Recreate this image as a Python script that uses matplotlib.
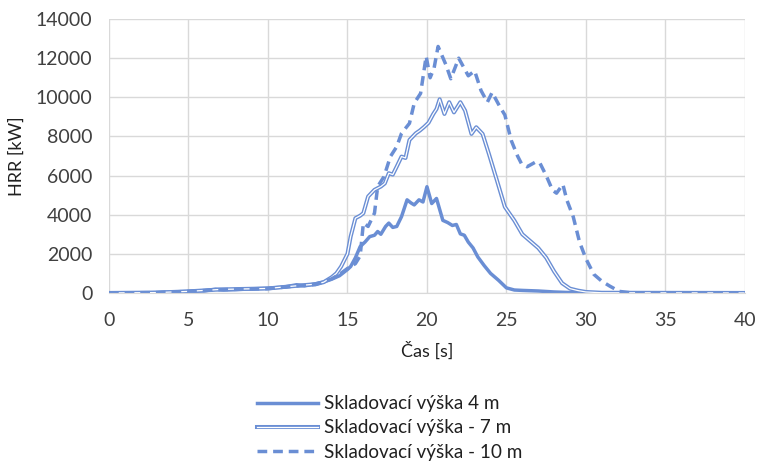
#import relevant libaries
import matplotlib
matplotlib.use('Agg')
import matplotlib.pyplot as plt
import matplotlib.patheffects as pe

plt.rcParams['font.family'] = ['Lato', 'DejaVu Sans']

#data
t4 = [0, 2, 3, 4, 5, 6, 6.7, 7.2, 8, 9, 10, 11, 11.8, 12.3, 13, 13.5, 14, 14.5, 15, 15.2, 15.5, 15.8, 16.1, 16.4,
      16.7, 16.9, 17.1, 17.4, 17.6, 17.85, 18.1, 18.4, 18.75, 19.0, 19.2, 19.5, 19.75, 20.0, 20.3, 20.6, 21.0,
      21.3, 21.6, 21.85, 22.1, 22.35, 22.6, 22.9, 23.2, 23.6, 24, 24.5, 25, 25.5, 26, 27, 28, 29, 30, 31, 40]
hrr4 = [0, 0, 20, 50, 80, 110, 190, 150, 170, 210, 240, 300, 420, 360, 470, 560, 700, 880, 1200, 1350, 1800, 2370,
        2600, 2880, 2950, 3140, 3000, 3400, 3570, 3350, 3400, 3900, 4760, 4600, 4500, 4760, 4650, 5430, 4570, 4830,
        3710, 3600, 3450, 3500, 3020, 2950, 2600, 2300, 1840, 1400, 1000, 650, 260, 150, 130, 100, 50, 20, 10, 0, 0]

t7 = [0, 3, 5, 7, 10, 12, 13, 13.5, 14, 14.3, 14.6, 15, 15.2, 15.5, 15.8, 16, 16.3, 16.7, 17.1, 17.35, 17.6, 17.85,
      18.1, 18.4, 18.65, 18.9, 19.3, 19.55, 19.8, 20.1, 20.4, 20.6, 20.8, 21.1, 21.4, 21.7, 22.1, 22.4, 22.8, 23.1,
      23.5, 23.9, 24.4, 24.9, 25.5, 26, 26.5, 27, 27.5, 28, 28.5, 29, 29.5, 30, 31, 40]
hrr7 = [0, 20, 80, 180, 230, 380, 450, 550, 800, 1000, 1350, 2000, 2880, 3820, 3950, 4080, 4930, 5270, 5440, 5600,
        6120, 6050, 6460, 6970, 6900, 7820, 8160, 8300, 8470, 8700, 9150, 9400, 9900, 9150, 9750, 9230, 9750, 9320,
        8130, 8470, 8130, 7100, 5760, 4400, 3700, 3000, 2650, 2300, 1800, 1100, 500, 220, 120, 50, 10, 0]

t10 = [0, 3, 5, 7, 10, 12, 13, 14, 14.5, 15, 15.5, 15.8, 16.0, 16.3, 16.7, 16.9, 17.3, 17.7, 18.1, 18.4, 18.9,
       19.2, 19.6, 19.95, 20.2, 20.45, 20.7, 21.2, 21.5, 22.0, 22.6, 23.0, 23.4, 23.8, 24.1, 24.6, 24.9, 25.3, 25.7,
       25.95, 26.3, 26.85, 27.1, 27.5, 27.9, 28.15, 28.55, 28.8, 29.2, 29.6, 30.0, 30.5, 31.0, 31.5, 32.1, 32.9, 40]
hrr10 = [0, 20, 80, 170, 220, 370, 430, 720, 950, 1250, 1500, 1900, 3570, 3400, 4080, 5440, 5950, 6970, 7480, 8160,
         8670, 9700, 10200, 12100, 11000, 11500, 12600, 11650, 10950, 12000, 11100, 11350, 10350, 9750, 10250, 9500,
         9100, 7800, 7000, 6600, 6450, 6700, 6650, 6000, 5250, 5100, 5550, 4750, 3900, 2600, 1750, 950, 600, 350,
         80, 0, 0]

labels = ['Skladovací výška 4 m', 'Skladovací výška - 7 m', 'Skladovací výška - 10 m']
x_ticks = [0, 5, 10, 15, 20, 25, 30, 35, 40]
y_ticks = [0, 2000, 4000, 6000, 8000, 10000, 12000, 14000]

color = '#6A8ED4'

#plot
fig = plt.figure(figsize=(7.57, 4.65), dpi=100)
ax = fig.add_axes([0.144, 0.370, 0.840, 0.589])

ax.plot(t4, hrr4, color=color, linewidth=2.5, label=labels[0], solid_joinstyle='round')
ax.plot(t7, hrr7, color='white', linewidth=0.9, label=labels[1],
        path_effects=[pe.Stroke(linewidth=2.9, foreground=color), pe.Normal()])
ax.plot(t10, hrr10, color=color, linewidth=2.5, linestyle=(0, (2.8, 1.7)), label=labels[2])

ax.set_xlim(0, 40)
ax.set_ylim(0, 14000)
ax.set_xticks(x_ticks)
ax.set_yticks(y_ticks)
ax.grid(True, color='#D9D9D9', linewidth=1)
ax.set_axisbelow(True)
for s in ['top', 'right', 'left']:
    ax.spines[s].set_visible(False)
ax.spines['bottom'].set_color('#D9D9D9')
ax.tick_params(length=0, labelsize=14, labelcolor='#404040')
ax.tick_params(axis='x', pad=14)
ax.tick_params(axis='y', pad=12)

ax.set_xlabel('Čas [s]', fontsize=13, color='#202020', labelpad=9)
ax.set_ylabel('HRR [kW]', fontsize=13, color='#202020', labelpad=8)

fig.legend(loc='lower center', bbox_to_anchor=(0.515, -0.027), frameon=False, fontsize=13.6,
           handlelength=3.2, handletextpad=0.35, labelspacing=0.38, labelcolor='#202020')

fig.savefig('out.png', dpi=100)
